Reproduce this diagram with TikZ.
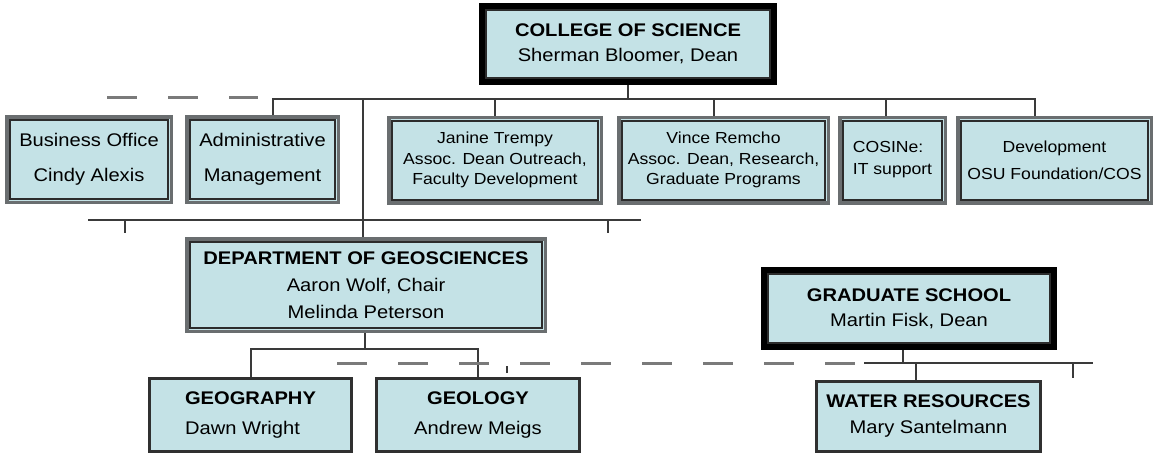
\documentclass[tikz,border=0pt]{standalone}
\usepackage{fontspec}
\setmainfont{Liberation Sans}[FakeStretch=1.1]

\definecolor{boxfill}{HTML}{C4E2E6}
\definecolor{linkgray}{HTML}{3A3A3A}
\definecolor{dashgray}{HTML}{7A7A7A}
\definecolor{unitgray}{HTML}{6A6E70}
\definecolor{innergray}{HTML}{2C2C2C}
\definecolor{leafgray}{HTML}{303030}

\tikzset{
  link/.style={draw=linkgray, line width=2pt},
  dashlink/.style={draw=dashgray, line width=3pt, dash pattern=on 30pt off 31pt},
  topbox/.style={draw=black, line width=6pt, fill=boxfill, inner sep=0pt, align=center},
  unitbox/.style={draw=unitgray, line width=3.5pt, fill=boxfill, inner sep=0pt, align=center},
  leafbox/.style={draw=leafgray, line width=3pt, fill=boxfill, inner sep=0pt, align=center},
  innerline/.style={draw=innergray, line width=2pt}
}

\begin{document}
\begin{tikzpicture}[x=1pt, y=-1pt]
\useasboundingbox (0,0) rectangle (1159,455);

% dean level
\node[topbox, minimum width=292pt, minimum height=76pt, font=\fontsize{18.3}{25}\selectfont] (college) at (628,44)
  {\textbf{COLLEGE OF SCIENCE}\\Sherman Bloomer, Dean};
\node[topbox, minimum width=290pt, minimum height=77pt, font=\fontsize{18.3}{25}\selectfont] (grad) at (909,308.5)
  {\textbf{GRADUATE SCHOOL}\\Martin Fisk, Dean};

% college units
\node[unitbox, minimum width=164.5pt, minimum height=85.5pt, font=\fontsize{18.3}{35}\selectfont] (busoff) at (89,159.5)
  {Business Office\\Cindy Alexis};
\node[unitbox, minimum width=151.5pt, minimum height=85.5pt, font=\fontsize{18.3}{35}\selectfont] (admin) at (262.5,159.5)
  {Administrative\\Management};
\node[unitbox, minimum width=212.5pt, minimum height=85.5pt, font=\fontsize{16}{20.5}\selectfont] (trempy) at (495,160)
  {Janine Trempy\\Assoc. Dean Outreach,\\Faculty Development};
\node[unitbox, minimum width=209.5pt, minimum height=85.5pt, font=\fontsize{16}{20.5}\selectfont] (remcho) at (723.5,160)
  {Vince Remcho\\Assoc. Dean, Research,\\Graduate Programs};
\node[unitbox, minimum width=105.5pt, minimum height=85.5pt, align=left, font=\fontsize{16}{22}\selectfont] (cosine) at (892.5,160)
  {COSINe:\\IT support};
\node[unitbox, minimum width=193.5pt, minimum height=85.5pt, font=\fontsize{16}{27}\selectfont] (devel) at (1054.5,160)
  {Development\\OSU Foundation/COS};

% department
\node[unitbox, minimum width=358.5pt, minimum height=92.5pt, font=\fontsize{18.3}{27}\selectfont] (geosci) at (366,285)
  {\textbf{DEPARTMENT OF GEOSCIENCES}\\Aaron Wolf, Chair\\Melinda Peterson};

% programs
\node[leafbox, minimum width=202pt, minimum height=73pt, align=left, font=\fontsize{18.3}{30}\selectfont] (geog) at (250.5,415)
  {\textbf{GEOGRAPHY}\\Dawn Wright};
\node[leafbox, minimum width=203pt, minimum height=73pt, font=\fontsize{18.3}{30}\selectfont] (geol) at (478,415)
  {\textbf{GEOLOGY}\\Andrew Meigs};
\node[leafbox, minimum width=224pt, minimum height=70pt, font=\fontsize{18.3}{26}\selectfont] (water) at (928.5,416.5)
  {\textbf{WATER RESOURCES}\\Mary Santelmann};

% inner frames
\foreach \n in {college, grad}
  \draw[innerline] ([shift={(7pt,-7pt)}]\n.north west) rectangle ([shift={(-7pt,7pt)}]\n.south east);
\foreach \n in {busoff, admin, trempy, remcho, cosine, devel, geosci}
  \draw[innerline] ([shift={(5pt,-5pt)}]\n.north west) rectangle ([shift={(-5pt,5pt)}]\n.south east);

% top bar
\coordinate (topbus) at (273,99);
\coordinate (devdrop) at (1035,99);
\coordinate (remdrop) at (714,99);
\coordinate (cosdrop) at (886,99);
\coordinate (geodrop) at (363,99);
\draw[link] (admin.north -| topbus) |- (devdrop) -- (devdrop |- devel.north);
\draw[link] (college.south) -- (college.south |- topbus);
\draw[link] (trempy.north) -- (trempy.north |- topbus);
\draw[link] (remdrop) -- (remdrop |- remcho.north);
\draw[link] (cosdrop) -- (cosdrop |- cosine.north);
\draw[link] (geodrop) -- (geodrop |- geosci.north);
\coordinate (dashtopL) at (107,97);
\coordinate (dashtopR) at (258,97);
\draw[dashlink] (dashtopL) -- (dashtopR);

% middle bar
\coordinate (midbusL) at (88,220);
\coordinate (midbusR) at (641,220);
\coordinate (tickL) at (125,233);
\coordinate (tickR) at (608,233);
\draw[link] (midbusL) -- (midbusR);
\draw[link] (tickL |- midbusL) -- (tickL);
\draw[link] (tickR |- midbusL) -- (tickR);

% department bar
\coordinate (deptbus) at (365,349);
\draw[link] (geosci.south -| deptbus) -- (deptbus);
\draw[link] (geog.north) |- (geol.north |- deptbus) -- (geol.north);

% graduate bar
\coordinate (dashL) at (337,363);
\coordinate (dashR) at (860,363);
\draw[dashlink] (dashL) -- (dashR);
\coordinate (smalltick) at (507,373);
\draw[link] (smalltick) -- ++(0,-7);
\coordinate (gradbusL) at (864,363);
\coordinate (gradbusR) at (1093,363);
\coordinate (gradstem) at (903,363);
\coordinate (watdrop) at (916,363);
\coordinate (tickW) at (1073,378);
\draw[link] (gradbusL) -- (gradbusR);
\draw[link] (gradstem) -- (gradstem |- grad.south);
\draw[link] (watdrop) -- (watdrop |- water.north);
\draw[link] (tickW |- gradbusL) -- (tickW);
\end{tikzpicture}
\end{document}
